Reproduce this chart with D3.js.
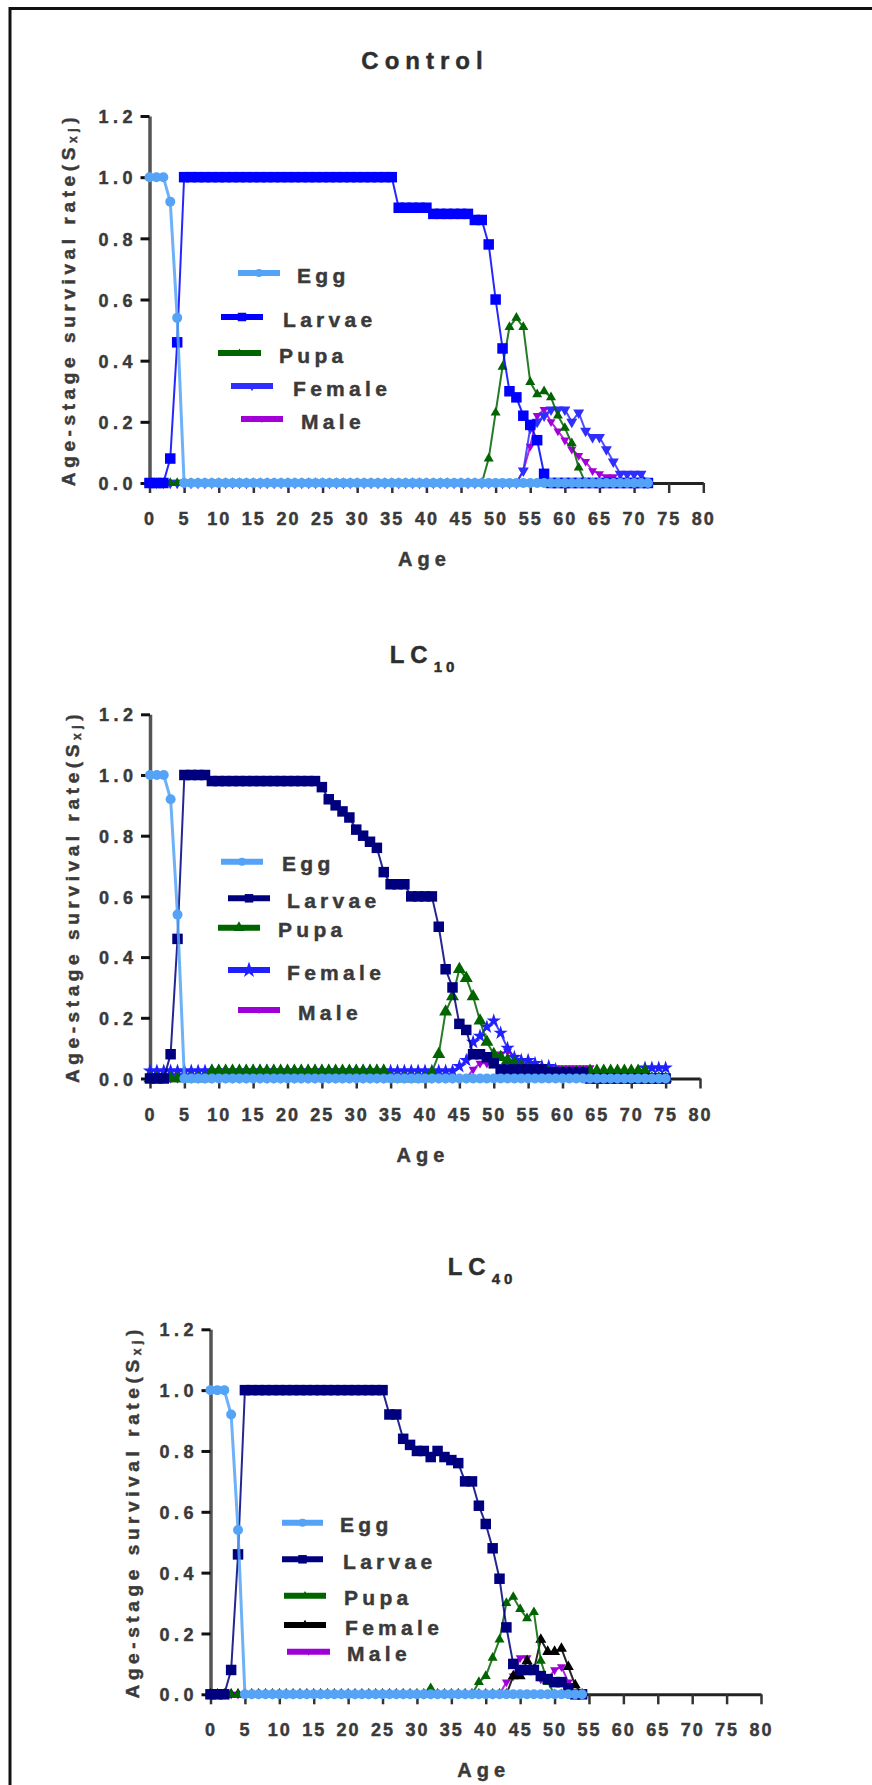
<!DOCTYPE html>
<html><head><meta charset="utf-8">
<script src="https://cdn.jsdelivr.net/npm/d3@7"></script>
<style>
body{margin:0;background:#fff}
svg{display:block}
text{font-family:"Liberation Sans",Arial,sans-serif;font-weight:bold;fill:#3a3a3a;stroke:#3a3a3a;stroke-width:0.45px}
</style>
</head><body>
<svg id="c" width="872" height="1785"></svg>
<script>
// ---------- shared labels / ticks ----------
const stageNames = ["Egg","Larvae","Pupa","Female","Male"];
const xTicks = [0,5,10,15,20,25,30,35,40,45,50,55,60,65,70,75,80];
const yTicks = [0,0.2,0.4,0.6,0.8,1.0,1.2];
const panelTitles = ["Control","LC","LC"];
const panelTitleSubs = ["","10","40"];
const yLabelMain = "Age-stage survival rate(S";
const yLabelSub = "xj";
const xLabelText = "Age";

// ---------- Control (ages 0..72) ----------
const ctrlEgg = [
1,1,1,0.92,0.54,0,0,0,0,0,
0,0,0,0,0,0,0,0,0,0,
0,0,0,0,0,0,0,0,0,0,
0,0,0,0,0,0,0,0,0,0,
0,0,0,0,0,0,0,0,0,0,
0,0,0,0,0,0,0,0,0,0,
0,0,0,0,0,0,0,0,0,0,
0,0,0];
const ctrlLarvae = [
0,0,0,0.08,0.46,1,1,1,1,1,
1,1,1,1,1,1,1,1,1,1,
1,1,1,1,1,1,1,1,1,1,
1,1,1,1,1,1,0.90,0.90,0.90,0.90,
0.90,0.88,0.88,0.88,0.88,0.88,0.88,0.86,0.86,0.78,
0.60,0.44,0.30,0.28,0.22,0.19,0.14,0.03,0,0,
0,0,0,0,0,0,0,0,0,0,
0,0,0];
const ctrlPupa = [
0,0,0,0,0,0,0,0,0,0,
0,0,0,0,0,0,0,0,0,0,
0,0,0,0,0,0,0,0,0,0,
0,0,0,0,0,0,0,0,0,0,
0,0,0,0,0,0,0,0,0,0.08,
0.23,0.38,0.51,0.54,0.51,0.33,0.29,0.30,0.28,0.22,
0.18,0.13,0.05,0,0,0,0,0,0,0,
0,0,0];
const ctrlFemale = [
0,0,0,0,0,0,0,0,0,0,
0,0,0,0,0,0,0,0,0,0,
0,0,0,0,0,0,0,0,0,0,
0,0,0,0,0,0,0,0,0,0,
0,0,0,0,0,0,0,0,0,0,
0,0,0,0,0.04,0.18,0.20,0.22,0.24,0.24,
0.24,0.20,0.23,0.17,0.15,0.15,0.11,0.07,0.03,0.03,
0.03,0.03,0];
const ctrlMale = [
0,0,0,0,0,0,0,0,0,0,
0,0,0,0,0,0,0,0,0,0,
0,0,0,0,0,0,0,0,0,0,
0,0,0,0,0,0,0,0,0,0,
0,0,0,0,0,0,0,0,0,0,
0,0,0,0,0.04,0.12,0.22,0.24,0.20,0.17,
0.14,0.11,0.09,0.07,0.04,0.03,0.02,0.02,0,0,
0,0,0];

// ---------- LC10 (ages 0..75) ----------
const lc10Egg = [
1,1,1,0.92,0.54,0,0,0,0,0,
0,0,0,0,0,0,0,0,0,0,
0,0,0,0,0,0,0,0,0,0,
0,0,0,0,0,0,0,0,0,0,
0,0,0,0,0,0,0,0,0,0,
0,0,0,0,0,0,0,0,0,0,
0,0,0,0,0,0,0,0,0,0,
0,0,0,0,0,0];
const lc10Larvae = [
0,0,0,0.08,0.46,1,1,1,1,0.98,
0.98,0.98,0.98,0.98,0.98,0.98,0.98,0.98,0.98,0.98,
0.98,0.98,0.98,0.98,0.98,0.96,0.92,0.90,0.88,0.86,
0.82,0.80,0.78,0.76,0.68,0.64,0.64,0.64,0.60,0.60,
0.60,0.60,0.50,0.36,0.30,0.18,0.16,0.08,0.08,0.07,
0.05,0.03,0.03,0.03,0.03,0.03,0.03,0.03,0.02,0.02,
0.02,0.02,0.02,0.02,0,0,0,0,0,0,
0,0,0,0,0,0];
const lc10Pupa = [
0,0,0,0,0,0,0,0,0,0.025,
0.025,0.025,0.025,0.025,0.025,0.025,0.025,0.025,0.025,0.025,
0.025,0.025,0.025,0.025,0.025,0.025,0.025,0.025,0.025,0.025,
0.025,0.025,0.025,0.025,0.025,0,0,0,0,0,
0,0.02,0.08,0.22,0.27,0.36,0.33,0.27,0.19,0.12,
0.08,0.07,0.06,0.05,0.04,0.03,0.02,0.02,0.02,0.02,
0.02,0.02,0.02,0.02,0.025,0.025,0.025,0.025,0.025,0.025,
0.025,0.025,0.025,0,0,0];
const lc10Female = [
0.025,0.025,0.025,0.025,0.025,0.025,0.025,0.025,0.025,0.025,
0.025,0.025,0.025,0.025,0.025,0.025,0.025,0.025,0.025,0.025,
0.025,0.025,0.025,0.025,0.025,0.025,0.025,0.025,0.025,0.025,
0.025,0.025,0.025,0.025,0.025,0.025,0.025,0.025,0.025,0.025,
0.025,0.025,0.025,0.025,0.025,0.04,0.06,0.12,0.14,0.17,
0.19,0.15,0.10,0.07,0.06,0.06,0.05,0.04,0.04,0.03,
0.02,0.02,0.02,0.02,0.02,0.02,0.02,0.02,0.02,0.02,
0.02,0.02,0.035,0.035,0.035,0.035];
const lc10Male = [
0,0,0,0,0,0,0,0,0,0,
0,0,0,0,0,0,0,0,0,0,
0,0,0,0,0,0,0,0,0,0,
0,0,0,0,0,0,0,0,0,0,
0,0,0,0,0,0,0,0.03,0.05,0.05,
0.06,0.08,0.09,0.07,0.05,0.04,0.03,0.035,0.035,0.035,
0.035,0.035,0.035,0.035,0.035,0,0,0,0,0,
0,0,0,0,0,0];

// ---------- LC40 (ages 0..54) ----------
const lc40Egg = [
1,1,1,0.92,0.54,0,0,0,0,0,
0,0,0,0,0,0,0,0,0,0,
0,0,0,0,0,0,0,0,0,0,
0,0,0,0,0,0,0,0,0,0,
0,0,0,0,0,0,0,0,0,0,
0,0,0,0,0];
const lc40Larvae = [
0,0,0,0.08,0.46,1,1,1,1,1,
1,1,1,1,1,1,1,1,1,1,
1,1,1,1,1,1,0.92,0.92,0.84,0.82,
0.80,0.80,0.78,0.80,0.78,0.77,0.76,0.70,0.70,0.62,
0.56,0.48,0.38,0.22,0.10,0.08,0.08,0.08,0.06,0.05,
0.04,0.04,0.02,0,0];
const lc40Pupa = [
0,0,0,0,0,0,0,0,0,0,
0,0,0,0,0,0,0,0,0,0,
0,0,0,0,0,0,0,0,0,0,
0,0,0.02,0,0,0,0,0,0,0.04,
0.06,0.12,0.18,0.30,0.32,0.28,0.25,0.27,0.11,0.04,
0,0,0,0,0];
const lc40Female = [
0,0,0,0,0,0,0,0,0,0,
0,0,0,0,0,0,0,0,0,0,
0,0,0,0,0,0,0,0,0,0,
0,0,0,0,0,0,0,0,0,0,
0,0,0,0,0.06,0.06,0.11,0.08,0.18,0.14,
0.14,0.15,0.09,0.03,0];
const lc40Male = [
0,0,0,0,0,0,0,0,0,0,
0,0,0,0,0,0,0,0,0,0,
0,0,0,0,0,0,0,0,0,0,
0,0,0,0,0,0,0,0,0,0,
0,0,0,0.04,0.06,0.12,0.12,0.08,0.05,0.05,
0.08,0.09,0.04,0,0];

// ---------- layout & styles ----------
const EGG_C = "#55a3f6";
const panels = [
  { title:panelTitles[0], sub:panelTitleSubs[0], x0:149.5, x1:703.3, yTop:116, yBot:483,
    titleX:425, titleY:69, ylabX:68,
    data:{Egg:ctrlEgg, Larvae:ctrlLarvae, Pupa:ctrlPupa, Female:ctrlFemale, Male:ctrlMale},
    style:{Egg:{c:EGG_C,s:"circle",w:10}, Larvae:{c:"#0000ff",s:"square",w:10.5}, Pupa:{c:"#006400",s:"triUp",w:10},
           Female:{c:"#2e2eff",s:"triDown",w:11}, Male:{c:"#a300d8",s:"triDown",w:9}},
    legend:[[238,280,273,297],[221,263,317,283],[218,261,353,279],[231,273,386,293],[241,283,419,301]] },
  { title:panelTitles[1], sub:panelTitleSubs[1], x0:150, x1:700, yTop:714.3, yBot:1078.5,
    titleX:424, titleY:663, ylabX:72,
    data:{Egg:lc10Egg, Larvae:lc10Larvae, Pupa:lc10Pupa, Female:lc10Female, Male:lc10Male},
    style:{Egg:{c:EGG_C,s:"circle",w:10}, Larvae:{c:"#00007f",s:"square",w:10.5}, Pupa:{c:"#006400",s:"triUp",w:13},
           Female:{c:"#1f1fff",s:"star",w:15}, Male:{c:"#9d00d6",s:"triDown",w:9}},
    legend:[[221,263,861.7,282],[228,270,898.3,287],[218,260,927.7,278],[228,270,970,287],[238,280,1010,298]] },
  { title:panelTitles[2], sub:panelTitleSubs[2], x0:210.5, x1:761, yTop:1329.3, yBot:1694.3,
    titleX:482, titleY:1275, ylabX:132,
    data:{Egg:lc40Egg, Larvae:lc40Larvae, Pupa:lc40Pupa, Female:lc40Female, Male:lc40Male},
    style:{Egg:{c:EGG_C,s:"circle",w:10}, Larvae:{c:"#00007f",s:"square",w:10.5}, Pupa:{c:"#006400",s:"triUp",w:10},
           Female:{c:"#000000",s:"triUp",w:11}, Male:{c:"#a000d8",s:"triDown",w:9}},
    legend:[[282,323,1522.7,340],[282,323,1559.3,343],[284,326,1595.7,344],[284,326,1625,345],[287,330,1651.7,347]] }
];

function symPath(shape, w){
  if(shape==="circle") return d3.symbol(d3.symbolCircle, Math.PI*(w/2)*(w/2))();
  if(shape==="square") return d3.symbol(d3.symbolSquare, w*w)();
  if(shape==="star") { const r = w/2; return d3.symbol(d3.symbolStar, r*r/0.8908130915292852)(); }
  return d3.symbol(d3.symbolTriangle, Math.sqrt(3)/4*w*w)();
}
function symRot(shape){ return shape==="triDown" ? " rotate(180)" : ""; }

const svg = d3.select("#c");
svg.append("rect").attr("width",872).attr("height",1785).attr("fill","#fff");
// figure frame (top + left edges)
svg.append("path").attr("d","M10,1785V8.5H872").attr("fill","none").attr("stroke","#111").attr("stroke-width",3);

const drawOrder = ["Male","Female","Pupa","Larvae","Egg"];

panels.forEach(p=>{
  const x = d3.scaleLinear().domain([0,80]).range([p.x0,p.x1]);
  const y = d3.scaleLinear().domain([0,1.2]).range([p.yBot,p.yTop]);

  // Y axis
  const ya = svg.append("g").attr("transform",`translate(${p.x0},0)`)
    .call(d3.axisLeft(y).tickValues(yTicks).tickFormat(d3.format(".1f")).tickSize(9).tickSizeOuter(0));
  ya.attr("font-size",null).attr("font-family",null);
  ya.select(".domain").attr("stroke","#555").attr("stroke-width",3.5);
  ya.selectAll(".tick line").attr("stroke","#111").attr("stroke-width",3);
  ya.selectAll(".tick text").attr("x",-12.5).attr("dy","0.37em")
    .style("font-size","18px").style("letter-spacing","4.5px");

  // X axis
  const xa = svg.append("g").attr("transform",`translate(0,${p.yBot})`)
    .call(d3.axisBottom(x).tickValues(xTicks).tickSize(10).tickSizeOuter(0));
  xa.attr("font-size",null).attr("font-family",null);
  xa.select(".domain").attr("stroke","#222").attr("stroke-width",3);
  xa.selectAll(".tick line").attr("stroke","#333").attr("stroke-width",2.5);
  xa.selectAll(".tick text").attr("y",42).attr("dy",0)
    .style("font-size","18px").style("letter-spacing","2px");

  // series
  drawOrder.forEach(name=>{
    const vals = p.data[name], st = p.style[name];
    const line = d3.line().defined(d=>d!=null).x((d,i)=>x(i)).y(d=>y(d));
    svg.append("path").datum(vals).attr("d",line).attr("fill","none")
      .attr("stroke",st.c).attr("stroke-width",name==="Egg"?3:2).attr("stroke-opacity",0.85);
    const pts = vals.map((v,i)=>[i,v]).filter(d=>d[1]!=null);
    svg.append("g").selectAll("path").data(pts).join("path")
      .attr("transform",d=>`translate(${x(d[0])},${y(d[1])})${symRot(st.s)}`)
      .attr("d",symPath(st.s,st.w)).attr("fill",st.c);
  });

  // legend
  stageNames.forEach((name,k)=>{
    const [lx1,lx2,ly,tx] = p.legend[k], st = p.style[name];
    svg.append("line").attr("x1",lx1).attr("x2",lx2).attr("y1",ly).attr("y2",ly)
      .attr("stroke",st.c).attr("stroke-width",6);
    const mw = st.s==="star" ? 17 : Math.max(6, st.w-2);
    svg.append("path").attr("transform",`translate(${(lx1+lx2)/2},${ly})${symRot(st.s)}`)
      .attr("d",symPath(st.s,mw)).attr("fill",st.c);
    svg.append("text").attr("x",tx).attr("y",ly+9.5).text(name)
      .style("font-size","21px").style("letter-spacing","4.3px");
  });

  // title
  const t = svg.append("text").attr("x",p.titleX).attr("y",p.titleY).attr("text-anchor","middle")
    .style("font-size","24px").style("letter-spacing","6px").style("fill","#2e2e2e").style("stroke","#2e2e2e");
  t.append("tspan").text(p.title);
  if(p.sub) t.append("tspan").attr("dy",9).style("font-size","15px").style("letter-spacing","4px").text(p.sub);

  // x label
  svg.append("text").attr("x",(p.x0+p.x1)/2-2).attr("y",p.yBot+83).attr("text-anchor","middle")
    .style("font-size","20px").style("letter-spacing","5px").text(xLabelText);

  // y label
  const yl = svg.append("text")
    .attr("transform",`translate(${p.ylabX},${(p.yTop+p.yBot)/2}) rotate(-90)`)
    .attr("text-anchor","middle").attr("dominant-baseline","central")
    .style("font-size","19px").style("letter-spacing","4.6px");
  yl.append("tspan").text(yLabelMain);
  yl.append("tspan").attr("dy",5).style("font-size","12px").text(yLabelSub);
  yl.append("tspan").attr("dy",-5).text(")");
});
</script>
</body></html>
